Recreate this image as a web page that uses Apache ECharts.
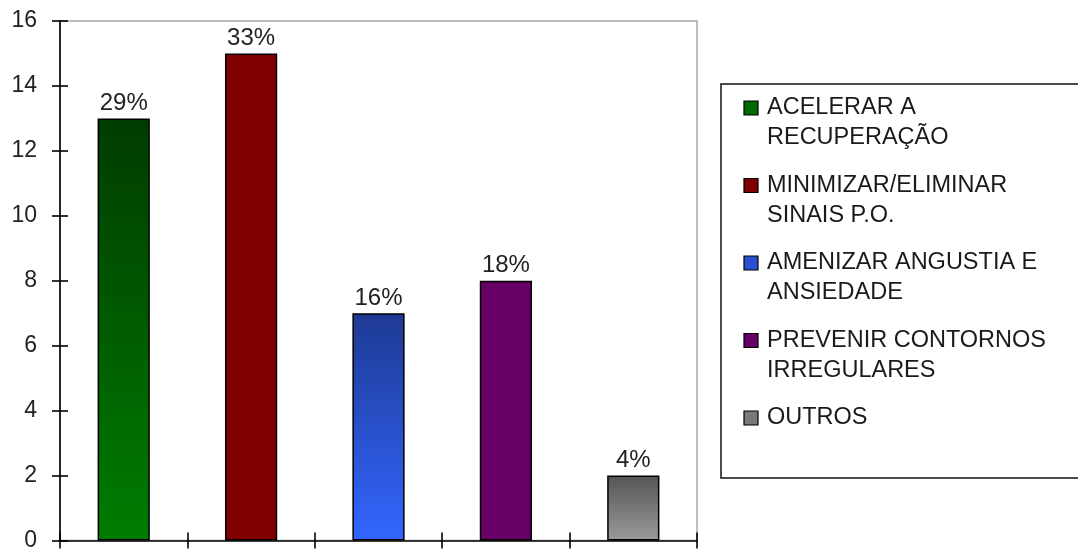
<!DOCTYPE html>
<html>
<head>
<meta charset="utf-8">
<script src="https://cdn.jsdelivr.net/npm/echarts@6/dist/echarts.min.js"></script>
<style>
  html, body { margin: 0; padding: 0; background: #fff; }
  #chart { width: 1078px; height: 552px; }
</style>
</head>
<body>
<div id="chart"></div>
<script>
// Motivos citados (número de respostas) e a fatia percentual de cada um
const categories = [
  'ACELERAR A\nRECUPERAÇÃO',
  'MINIMIZAR/ELIMINAR\nSINAIS P.O.',
  'AMENIZAR ANGUSTIA E\nANSIEDADE',
  'PREVENIR CONTORNOS\nIRREGULARES',
  'OUTROS'
];
const counts = [13, 15, 7, 8, 2];
const percents = [29, 33, 16, 18, 4];
const yTicks = { min: 0, max: 16, interval: 2 };

// Bar fills: top colour -> bottom colour, plus the flat legend swatch colour
const fills = [
  { top: '#003c00', bottom: '#007c00', swatch: '#006a00' },
  { top: '#800000', bottom: '#800000', swatch: '#800000' },
  { top: '#1e3a94', bottom: '#3366ff', swatch: '#2850d0' },
  { top: '#660066', bottom: '#660066', swatch: '#660066' },
  { top: '#555555', bottom: '#9a9a9a', swatch: '#7a7a7a' }
];

const FONT = '"Liberation Sans", Arial, sans-serif';

function gradient(f) {
  return new echarts.graphic.LinearGradient(0, 0, 0, 1, [
    { offset: 0, color: f.top },
    { offset: 1, color: f.bottom }
  ]);
}

const chart = echarts.init(document.getElementById('chart'), null, { renderer: 'canvas' });

// Legend drawn as a boxed list to the right of the plot
const legendItems = [];
legendItems.push({
  type: 'rect',
  shape: { x: 721, y: 84, width: 370, height: 394 },
  style: { fill: '#fff', stroke: '#111', lineWidth: 1.5 },
  z: 10
});
categories.forEach(function (name, i) {
  const cy = 108 + i * 77.5;
  legendItems.push({
    type: 'rect',
    shape: { x: 744, y: cy - 7, width: 14, height: 14 },
    style: { fill: fills[i].swatch, stroke: '#000', lineWidth: 1.2 },
    z: 11
  });
  legendItems.push({
    type: 'text',
    x: 767,
    y: cy - 15,
    style: {
      text: name,
      font: '23.5px ' + FONT,
      fill: '#1a1a1a',
      lineHeight: 30,
      verticalAlign: 'top'
    },
    z: 11
  });
});

const axisLine = { show: true, lineStyle: { color: '#000', width: 1.6 } };
function ticks(inside) {
  return { show: true, inside: inside, interval: 0, length: 8, lineStyle: { color: '#000', width: 1.6 } };
}

chart.setOption({
  animation: false,
  backgroundColor: '#fff',
  grid: {
    left: 60, right: 381, top: 21, bottom: 10,
    show: true, borderColor: '#a8a8a8', borderWidth: 1.5, backgroundColor: 'transparent'
  },
  xAxis: [
    {
      type: 'category',
      data: categories,
      position: 'bottom',
      axisLine: axisLine,
      axisTick: ticks(false),
      axisLabel: { show: false, interval: 0 }
    },
    {
      type: 'category',
      data: categories,
      position: 'bottom',
      axisLine: { show: false },
      axisTick: ticks(true),
      axisLabel: { show: false, interval: 0 }
    }
  ],
  yAxis: [
    {
      type: 'value',
      min: yTicks.min, max: yTicks.max, interval: yTicks.interval,
      position: 'left',
      axisLine: axisLine,
      axisTick: ticks(false),
      axisLabel: { show: true, margin: 23, color: '#222', fontSize: 23, fontFamily: FONT },
      splitLine: { show: false }
    },
    {
      type: 'value',
      min: yTicks.min, max: yTicks.max, interval: yTicks.interval,
      position: 'left',
      axisLine: { show: false },
      axisTick: ticks(true),
      axisLabel: { show: false },
      splitLine: { show: false }
    }
  ],
  series: [{
    type: 'bar',
    xAxisIndex: 0,
    yAxisIndex: 0,
    barWidth: '41%',
    data: counts.map(function (v, i) {
      return {
        value: v,
        itemStyle: { color: gradient(fills[i]), borderColor: '#000', borderWidth: 1.5 }
      };
    }),
    label: {
      show: true,
      position: 'top',
      distance: 3,
      color: '#222',
      fontSize: 24,
      fontFamily: FONT,
      formatter: function (p) { return percents[p.dataIndex] + '%'; }
    }
  }],
  graphic: legendItems
});
</script>
</body>
</html>
